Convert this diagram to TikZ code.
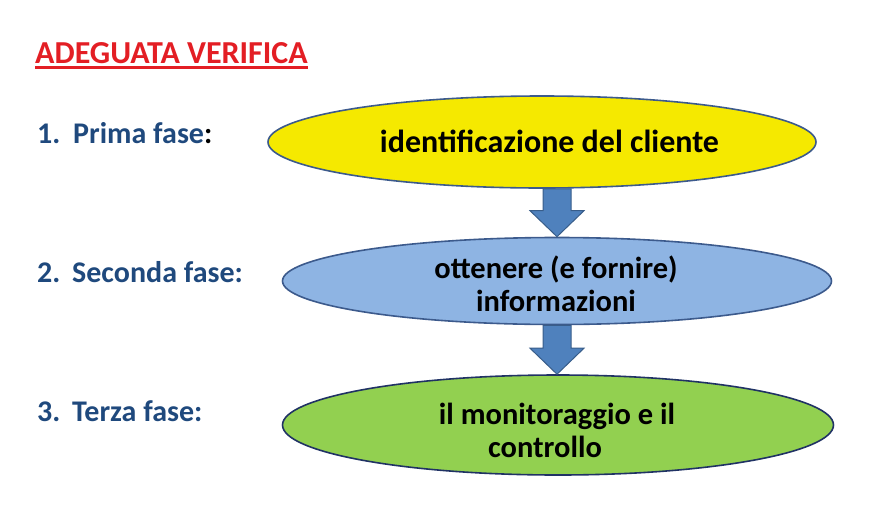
\documentclass[tikz,border=0pt]{standalone}
\usepackage{fontspec}
\setmainfont{Carlito}
\usetikzlibrary{shapes.geometric,calc}
\definecolor{titlered}{RGB}{227,30,36}
\definecolor{labelblue}{RGB}{31,73,125}
\definecolor{ellyellow}{RGB}{245,233,0}
\definecolor{ellblue}{RGB}{142,180,227}
\definecolor{ellgreen}{RGB}{146,208,80}
\definecolor{ellborder}{RGB}{60,90,140}
\definecolor{ellborderdark}{RGB}{32,50,100}
\definecolor{arrowfill}{RGB}{79,129,189}
\definecolor{arrowborder}{RGB}{56,93,138}
\newcommand\blockarrow[2]{%
  \draw[barrow] ($(#1)+(-14,0)$) -- ($(#1)+(14,0)$) -- ($(#2)+(14,-26)$)
    -- ($(#2)+(27,-26)$) -- (#2) -- ($(#2)+(-27,-26)$) -- ($(#2)+(-14,-26)$) -- cycle;}
\begin{document}
\begin{tikzpicture}[x=1pt,y=-1pt,
  phase/.style={ellipse, draw=ellborder, line width=1.6pt, inner sep=0pt},
  etext/.style={font=\fontsize{30.5}{33}\selectfont\bfseries, text=black, align=center, inner sep=0pt},
  lbl/.style={font=\fontsize{30}{36}\selectfont\bfseries, text=labelblue, inner sep=0pt, anchor=base west},
  barrow/.style={fill=arrowfill, draw=arrowborder, line width=1pt, line join=miter}]
\useasboundingbox (0,0) rectangle (881,504);
% title
\node[font=\fontsize{32}{38}\selectfont\bfseries, text=titlered, inner sep=0pt, anchor=base west] (title) at (35,63) {ADEGUATA VERIFICA};
\draw[titlered, line width=3pt] ($(title.base west)+(0,4.5)$) -- ($(title.base east)+(0,4.5)$);
% labels
\node[lbl] (n1) at (37,143) {1.};
\node[lbl] (l1) at (73,143) {Prima fase\textcolor{black}{:}};
\node[lbl] (n2) at (37,282) {2.};
\node[lbl] (l2) at (72,282) {Seconda fase:};
\node[lbl] (n3) at (37,421) {3.};
\node[lbl] (l3) at (72,421) {Terza fase:};
% ellipses
\node[phase, fill=ellyellow, minimum width=548pt, minimum height=92pt] (e1) at (542,142) {};
\node[etext, font=\fontsize{32}{34}\selectfont\bfseries, anchor=base] (t1) at (549.5,152) {identificazione del cliente};
\node[phase, fill=ellblue, minimum width=549pt, minimum height=87pt] (e2) at (557,281) {};
\node[etext] (t2) at (556,284) {ottenere (e fornire)\\informazioni};
\node[phase, fill=ellgreen, draw=ellborderdark, minimum width=551pt, minimum height=100pt] (e3) at (558,425) {};
\node[etext] (t3) at (557,430) {il monitoraggio e il\\controllo\hspace*{24pt}};
% arrows
\coordinate (a1s) at (e1.south -| e2.north);
\coordinate (a1t) at (e2.north);
\coordinate (a2s) at (e2.south);
\coordinate (a2t) at (e2.south |- e3.north);
\blockarrow{a1s}{a1t}
\blockarrow{a2s}{a2t}
\end{tikzpicture}
\end{document}
